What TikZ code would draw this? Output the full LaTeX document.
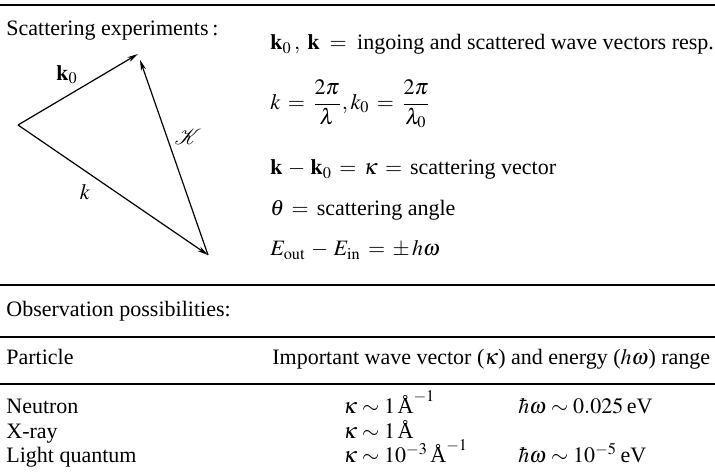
\documentclass[tikz,border=0pt]{standalone}
\usepackage{mathptmx}
\usepackage{mathrsfs}
\usepackage[no-math]{fontspec}
\setmainfont{Liberation Serif}
\usetikzlibrary{arrows.meta}
\newcommand{\mytabfont}{\fontsize{11}{13}\selectfont}
\newcommand{\tm}[1]{$\thickmuskip=4mu\relax #1$}
\tikzset{
  txt/.style={anchor=base west, inner sep=0pt, font=\fontsize{11}{13}\selectfont},
  tab/.style={anchor=base west, inner sep=0pt, font=\mytabfont},
  lbl/.style={inner sep=0pt, font=\fontsize{11}{13}\selectfont},
  vec/.style={line width=0.6pt, -{Stealth[length=5.5pt,width=2.6pt]}},
  thickrule/.style={line width=0.9pt},
  thinrule/.style={line width=0.7pt}
}
\begin{document}
\begin{tikzpicture}[x=0.5pt,y=-0.5pt]
\useasboundingbox (0,0) rectangle (715,475);
% rules
\coordinate (r1a) at (0,5);   \coordinate (r1b) at (715,5);
\coordinate (r2a) at (0,285); \coordinate (r2b) at (715,285);
\coordinate (r3a) at (0,337); \coordinate (r3b) at (715,337);
\coordinate (r4a) at (0,384); \coordinate (r4b) at (715,384);
\draw[thickrule] (r1a) -- (r1b);
\draw[thickrule] (r2a) -- (r2b);
\draw[thinrule] (r3a) -- (r3b);
\draw[thinrule] (r4a) -- (r4b);
% heading
\node[txt] (h1) at (6,36) {Scattering experiments\,:};
% triangle
\coordinate (L) at (18,125);
\coordinate (T) at (138,54);
\coordinate (B) at (208,255);
\draw[vec] (L) -- (T);
\draw[vec] (L) -- (B);
\draw[vec, shorten >=3pt] (B) -- (T);
\node[lbl] (lk0) at (67,75) {$\mathbf{k}_0$};
\node[lbl] (lk) at (85,192) {$k$};
\node[lbl] (lK) at (188,137) {$\mathscr{K}$};
% right column
\node[txt] (e1) at (270,50) {$\mathbf{k}_0\,,\;\mathbf{k}\;=\;$ ingoing and scattered wave vectors resp.};
\node[lbl, anchor=west] (e2) at (270,104) {$\displaystyle k\,=\,\frac{2\pi}{\lambda}, k_0\,=\,\frac{2\pi}{\lambda_0}$};
\node[txt] (e3) at (270,175) {$\mathbf{k}\,-\,\mathbf{k}_0\,=\,\kappa\,=\,$ scattering vector};
\node[txt] (e4) at (270,216) {$\theta\,=\,$ scattering angle};
\node[txt] (e5) at (270,256) {$E_{\mathrm{out}}\,-\,E_{\mathrm{in}}\,=\,\pm\,h\omega$};
% observation
\node[txt] (o1) at (6,316) {Observation possibilities:};
\node[txt] (p1) at (6,364) {Particle};
\node[txt] (p2) at (272,364) {Important wave vector ($\kappa$) and energy ($h\omega$) range};
% rows
\node[txt] (n1) at (6,413) {Neutron};
\node[txt] (n2) at (6,438) {X-ray};
\node[txt] (n3) at (6,462) {Light quantum};
\node[tab] (k1) at (343,413) {\tm{\kappa\sim 1\,\mbox{Å}^{-1}}};
\node[tab] (k2) at (343,438) {\tm{\kappa\sim 1\,\mbox{Å}}};
\node[tab] (k3) at (343,462) {\tm{\kappa\sim 10^{-3}\,\mbox{Å}^{-1}}};
\node[tab] (w1) at (518,413) {\tm{\hbar\omega\sim 0.025}\,eV};
\node[tab] (w3) at (518,462) {\tm{\hbar\omega\sim 10^{-5}}\,eV};
\end{tikzpicture}
\end{document}
